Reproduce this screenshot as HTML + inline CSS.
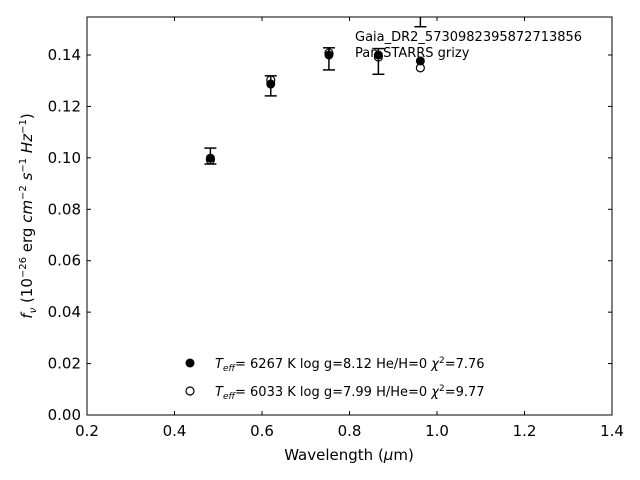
<!DOCTYPE html>
<html><head><meta charset="utf-8"><style>
body{margin:0;background:#fff;}
svg{display:block;font-family:"DejaVu Sans","Liberation Sans",sans-serif;}
</style></head><body>
<svg id="chart" width="640" height="480" viewBox="0 0 640 480">
<rect x="0" y="0" width="640" height="480" fill="#fff"/>
<g id="plot"></g>
<rect x="87" y="17" width="525" height="398" fill="none" stroke="#000" stroke-width="1"/>
<g id="axes"></g>
<text x="349" y="460" font-size="15" text-anchor="middle">Wavelength (<tspan font-style="italic">μ</tspan>m)</text>
<text transform="translate(32,216) rotate(-90)" font-size="15" text-anchor="middle"><tspan font-style="italic">f</tspan><tspan font-style="italic" font-size="10" dy="4">ν</tspan><tspan dy="-4"> (10</tspan><tspan font-size="10" dy="-6">−26</tspan><tspan dy="6"> erg </tspan><tspan font-style="italic">cm</tspan><tspan font-size="10" dy="-6">−2</tspan><tspan dy="6"> </tspan><tspan font-style="italic">s</tspan><tspan font-size="10" dy="-6">−1</tspan><tspan dy="6"> </tspan><tspan font-style="italic">Hz</tspan><tspan font-size="10" dy="-6">−1</tspan><tspan dy="6">)</tspan></text>
<text x="355" y="41" font-size="13">Gaia_DR2_5730982395872713856</text>
<text x="355" y="57" font-size="13">Pan-STARRS grizy</text>
<g>
<circle cx="190" cy="363" r="4.5" fill="#000"/>
<text x="215" y="368" font-size="13"><tspan font-style="italic">T</tspan><tspan font-style="italic" font-size="9" dy="3">eff</tspan><tspan dy="-3">=  6267 K  log g=8.12  He/H=0  </tspan><tspan font-style="italic">χ</tspan><tspan font-size="9" dy="-5">2</tspan><tspan dy="5">=7.76</tspan></text>
<circle cx="190" cy="391" r="4" fill="#fff" stroke="#000" stroke-width="1.2"/>
<text x="215" y="396" font-size="13"><tspan font-style="italic">T</tspan><tspan font-style="italic" font-size="9" dy="3">eff</tspan><tspan dy="-3">=  6033 K  log g=7.99  H/He=0  </tspan><tspan font-style="italic">χ</tspan><tspan font-size="9" dy="-5">2</tspan><tspan dy="5">=9.77</tspan></text>
</g>
</svg>
<script>
const wavelengths=[0.482,0.62,0.753,0.866,0.962];
const obsFlux=[0.1007,0.128,0.1385,0.1375,0.156];
const obsErr=[0.0031,0.0039,0.0043,0.005,0.005];
const model1Flux=[0.0999,0.1287,0.1400,0.1400,0.1377];
const model2Flux=[0.0992,0.1303,0.1408,0.1392,0.1350];
const xTicks=[0.2,0.4,0.6,0.8,1.0,1.2,1.4];
const xTickLabels=["0.2","0.4","0.6","0.8","1.0","1.2","1.4"];
const yTicks=[0,0.02,0.04,0.06,0.08,0.10,0.12,0.14];
const yTickLabels=["0.00","0.02","0.04","0.06","0.08","0.10","0.12","0.14"];
const NS="http://www.w3.org/2000/svg";
const X0=87,X1=612,Y0=415,YT=17;
function sx(v){return X0+(v-0.2)/1.2*(X1-X0);}
function sy(v){return Y0-v*(Y0-55)/0.14;}
function mk(tag,attrs,parent){const e=document.createElementNS(NS,tag);for(const k in attrs)e.setAttribute(k,attrs[k]);parent.appendChild(e);return e;}
const plot=document.getElementById('plot');
const axes=document.getElementById('axes');
const clip=mk('clipPath',{id:'clp'},plot);
mk('rect',{x:X0,y:YT,width:X1-X0,height:Y0-YT},clip);
const g=mk('g',{'clip-path':'url(#clp)'},plot);
wavelengths.forEach((w,i)=>{
 const x=sx(w);
 const el=mk('circle',{cx:x,cy:sy(model2Flux[i]),r:4,fill:'#fff',stroke:'#000','stroke-width':1.2},g);
 
 
});
wavelengths.forEach((w,i)=>{
 const x=sx(w);
 const el=mk('circle',{cx:x,cy:sy(model1Flux[i]),r:4.5,fill:'#000'},g);
 
 
});
wavelengths.forEach((w,i)=>{
 const x=sx(w),t=sy(obsFlux[i]+obsErr[i]),b=sy(obsFlux[i]-obsErr[i]);
 const eg=mk('g',{stroke:'#000','stroke-width':1.5},g);
 
 
 mk('line',{x1:x,x2:x,y1:t,y2:b},eg);
 mk('line',{x1:x-6,x2:x+6,y1:t,y2:t},eg);
 mk('line',{x1:x-6,x2:x+6,y1:b,y2:b},eg);
});
xTicks.forEach((v,i)=>{
 const x=sx(v);
 mk('line',{x1:x,x2:x,y1:Y0,y2:Y0-4,stroke:'#000'},axes);
 mk('line',{x1:x,x2:x,y1:YT,y2:YT+4,stroke:'#000'},axes);
 const t=mk('text',{x:x,y:Y0+21,'font-size':15,'text-anchor':'middle'},axes);
 t.textContent=xTickLabels[i];
 
 
});
yTicks.forEach((v,i)=>{
 const y=sy(v);
 mk('line',{x1:X0,x2:X0+4,y1:y,y2:y,stroke:'#000'},axes);
 mk('line',{x1:X1,x2:X1-4,y1:y,y2:y,stroke:'#000'},axes);
 const t=mk('text',{x:X0-6,y:y+5,'font-size':15,'text-anchor':'end'},axes);
 t.textContent=yTickLabels[i];
 
 
});
</script>
</body></html>
